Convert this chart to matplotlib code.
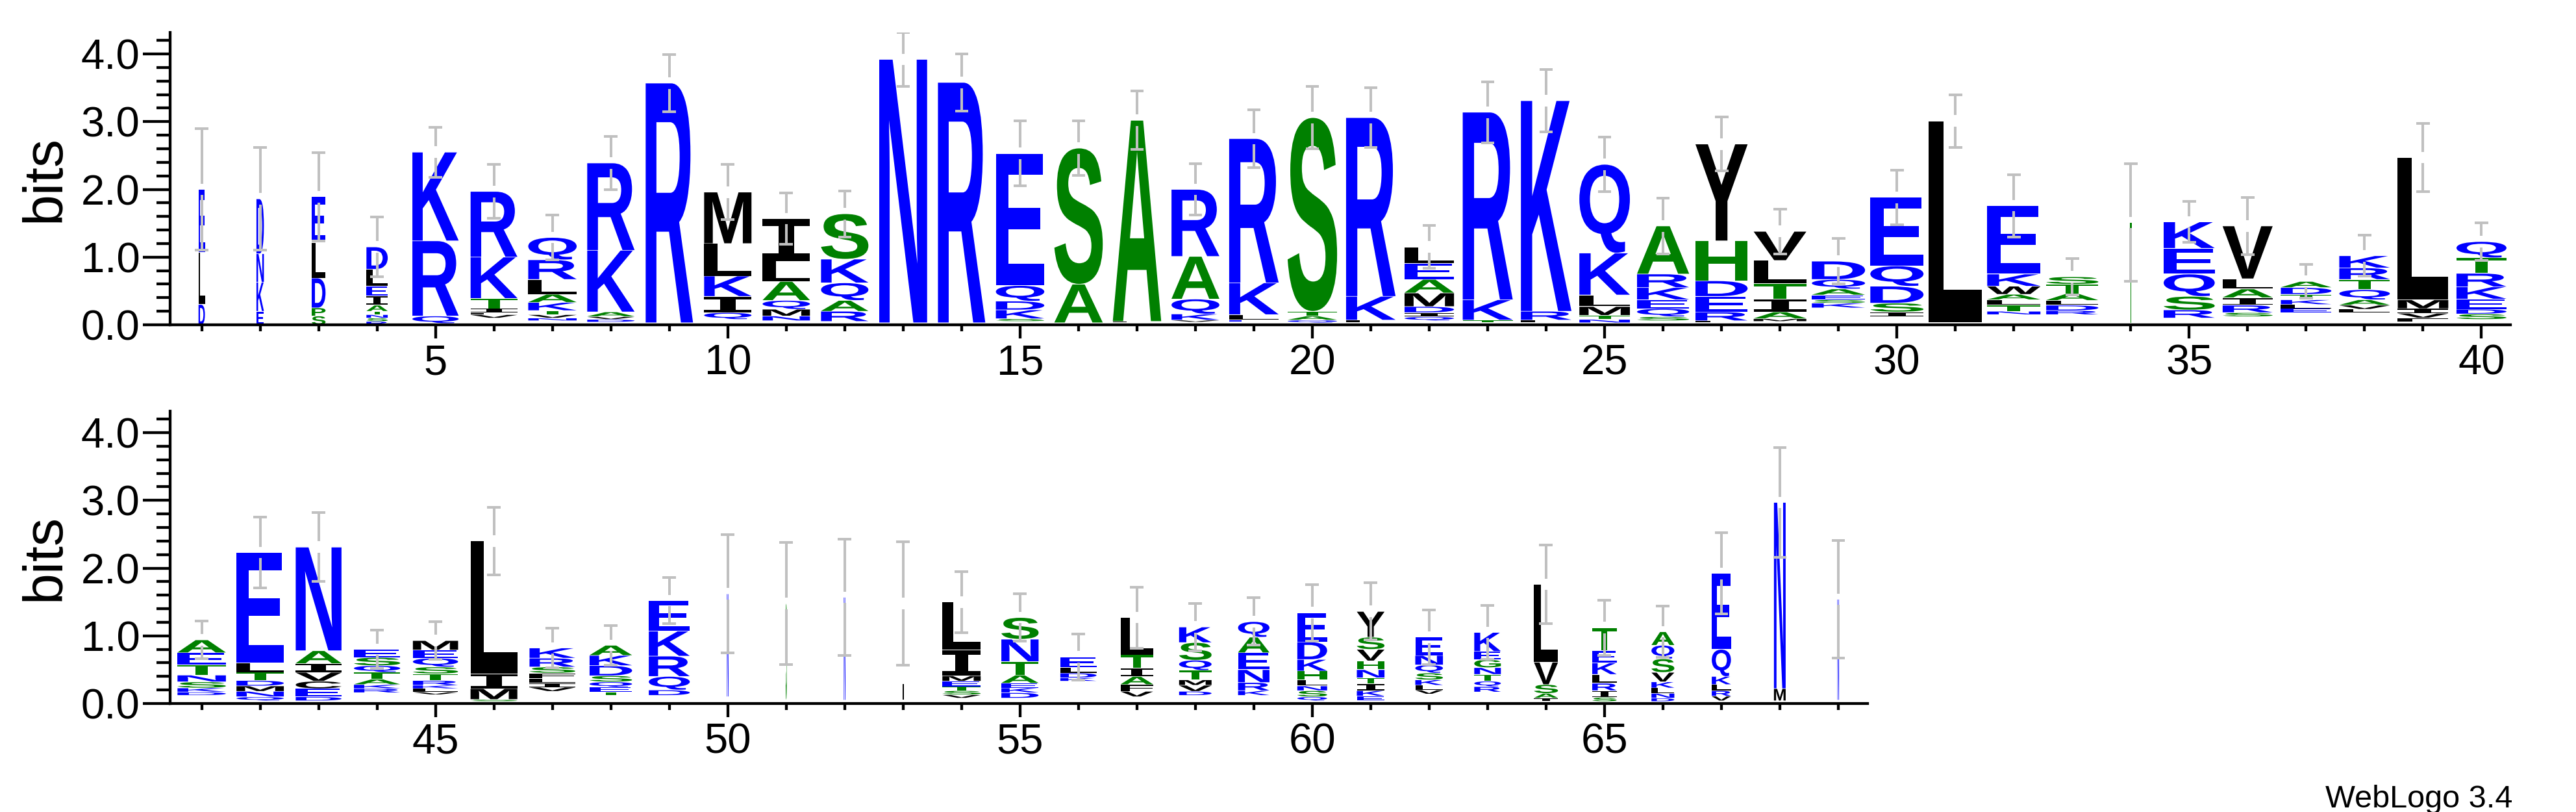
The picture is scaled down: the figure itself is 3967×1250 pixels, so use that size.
import matplotlib
matplotlib.use('Agg')
import matplotlib.pyplot as plt
from matplotlib.textpath import TextPath
from matplotlib.patches import PathPatch
from matplotlib.font_manager import FontProperties
from matplotlib.transforms import Affine2D
from matplotlib.ticker import MultipleLocator, FormatStrFormatter

# ---- data read off the logo (bits) ----
# fraction of sequences present at each column (stack width)
occupancy = [
    0.12, 0.14, 0.26, 0.40, 0.87, 0.88, 0.91, 0.89, 0.89, 0.89,
    0.89, 0.89, 0.90, 0.89, 0.91, 0.91, 0.91, 0.90, 0.93, 0.93,
    0.93, 0.93, 0.94, 0.95, 0.95, 0.98, 0.98, 0.99, 1.00, 1.00,
    1.00, 1.00, 0.98, 0.03, 0.96, 0.94, 0.95, 0.95, 0.95, 0.94,
    0.91, 0.89, 0.86, 0.87, 0.85, 0.88, 0.86, 0.80, 0.77, 0.03,
    0.02, 0.03, 0.02, 0.72, 0.70, 0.68, 0.61, 0.61, 0.59, 0.56,
    0.52, 0.52, 0.50, 0.45, 0.46, 0.43, 0.36, 0.22, 0.03,
]
# bits taken by residues too small to show
floor_bits = [
    0.00, 0.00, 0.00, 0.00, 0.02, 0.10, 0.06, 0.04, 0.03, 0.08,
    0.06, 0.05, 0.03, 0.03, 0.05, 0.03, 0.03, 0.04, 0.04, 0.03,
    0.03, 0.06, 0.03, 0.03, 0.03, 0.06, 0.03, 0.05, 0.25, 0.12,
    0.03, 0.15, 0.15, 0.02, 0.10, 0.12, 0.18, 0.18, 0.04, 0.08,
    0.12, 0.04, 0.04, 0.16, 0.13, 0.03, 0.18, 0.12, 0.12, 0.10,
    0.05, 0.05, 0.05, 0.08, 0.08, 0.33, 0.10, 0.12, 0.12, 0.04,
    0.04, 0.14, 0.17, 0.03, 0.03, 0.03, 0.04, 0.04, 0.05,
]
# letters bottom -> top
stack_letters = [
    'DLE', 'EKND', 'SPDLE', 'RSNTAIELD', 'QRK', 'VLITKR', 'NVTKALRQ', 'DVAKR', 'R', 'QIKLM',
    'NMQALI', 'RAQKS', 'N', 'R', 'SKDQE', 'AS', 'LA', 'VKQAR', 'ELKR', 'QATS',
    'LKR', 'QIDMAEL', 'TKR', 'LRK', 'NTMLKQ', 'SQEKRA', 'LREDHY', 'MAITLV', 'KSEAQD', 'ISDQE',
    'L', 'NTLAWKE', 'RDLATS', 'T', 'RSQEK', 'SRIALV', 'ELKTDA', 'LVAQTRK', 'FVIML', 'SDEKRTQ',
    'DKSNTEA', 'QNMDTLE', 'DECVIAN', 'RKATQSE', 'VLKRTSQEM', 'SMIL', 'VILFSRK', 'TEQSDKA', 'DQRKE', 'N',
    'S', 'N', 'L', 'VSTEMIL', 'DKEATNS', 'KDLE', 'VFAITL', 'DVMTQSK', 'KRNEAQ', 'QSNLHKDE',
    'EKITNHVSY', 'VLKSQNE', 'RQTNGEK', 'IASVL', 'SIRLKET', 'DNLKVSQA', 'VRLKQE', 'MN', 'N',
]
stack_heights = [
    [0.30, 0.77, 0.93], [0.20, 0.43, 0.42, 0.81], [0.13, 0.12, 0.44, 0.52, 0.68],
    [0.05, 0.05, 0.05, 0.05, 0.09, 0.14, 0.14, 0.25, 0.33], [0.11, 1.11, 1.31],
    [0.05, 0.03, 0.06, 0.15, 0.61, 0.97], [0.04, 0.05, 0.06, 0.12, 0.12, 0.22, 0.29, 0.33],
    [0.04, 0.04, 0.07, 0.91, 1.29], [3.54], [0.10, 0.24, 0.30, 0.48, 0.76],
    [0.07, 0.10, 0.13, 0.28, 0.30, 0.63], [0.15, 0.16, 0.26, 0.35, 0.67], [3.89], [3.55],
    [0.04, 0.13, 0.13, 0.23, 1.95], [0.57, 2.01], [0.02, 2.97], [0.03, 0.09, 0.22, 0.63, 0.99],
    [0.03, 0.08, 0.47, 2.13], [0.04, 0.06, 0.07, 2.86],
    [0.04, 0.35, 2.64], [0.06, 0.06, 0.09, 0.20, 0.20, 0.24, 0.24], [0.04, 0.30, 2.77],
    [0.04, 0.13, 3.11], [0.05, 0.06, 0.13, 0.17, 0.62, 1.31], [0.06, 0.12, 0.13, 0.18, 0.20, 0.71],
    [0.03, 0.13, 0.23, 0.23, 0.59, 1.43], [0.04, 0.10, 0.19, 0.23, 0.34, 0.43],
    [0.07, 0.05, 0.07, 0.09, 0.14, 0.27], [0.07, 0.13, 0.25, 0.30, 1.01],
    [2.98], [0.05, 0.09, 0.08, 0.08, 0.12, 0.18, 1.01], [0.06, 0.08, 0.07, 0.10, 0.14, 0.11],
    [1.49], [0.12, 0.20, 0.33, 0.38, 0.39], [0.06, 0.11, 0.11, 0.13, 0.15, 0.78],
    [0.06, 0.06, 0.07, 0.08, 0.10, 0.09], [0.05, 0.06, 0.08, 0.15, 0.15, 0.17, 0.18],
    [0.06, 0.07, 0.07, 0.13, 2.10], [0.08, 0.07, 0.15, 0.18, 0.20, 0.23, 0.24],
    [0.05, 0.06, 0.09, 0.10, 0.15, 0.18, 0.19], [0.06, 0.08, 0.08, 0.08, 0.12, 0.14, 1.63],
    [0.06, 0.12, 0.11, 0.13, 0.13, 0.19, 1.53], [0.06, 0.06, 0.08, 0.10, 0.10, 0.12, 0.12],
    [0.04, 0.05, 0.05, 0.07, 0.10, 0.10, 0.13, 0.12, 0.14], [0.03, 0.16, 0.22, 1.96],
    [0.06, 0.06, 0.07, 0.08, 0.09, 0.13, 0.15], [0.05, 0.07, 0.08, 0.09, 0.15, 0.15, 0.15],
    [0.08, 0.20, 0.30, 0.37, 0.45], [1.52],
    [1.43], [1.52], [1.43], [0.05, 0.06, 0.06, 0.08, 0.08, 0.38, 0.71],
    [0.08, 0.07, 0.07, 0.12, 0.20, 0.33, 0.32], [0.05, 0.07, 0.08, 0.16],
    [0.08, 0.10, 0.12, 0.12, 0.20, 0.55], [0.06, 0.09, 0.08, 0.14, 0.15, 0.26, 0.23],
    [0.07, 0.12, 0.19, 0.25, 0.23, 0.23], [0.06, 0.09, 0.07, 0.09, 0.13, 0.17, 0.26, 0.43],
    [0.07, 0.08, 0.10, 0.09, 0.12, 0.13, 0.17, 0.18, 0.38], [0.06, 0.07, 0.08, 0.10, 0.12, 0.14, 0.27],
    [0.08, 0.08, 0.10, 0.10, 0.12, 0.12, 0.28], [0.05, 0.07, 0.13, 0.33, 1.15],
    [0.06, 0.10, 0.11, 0.13, 0.17, 0.18, 0.34], [0.05, 0.07, 0.08, 0.09, 0.14, 0.20, 0.20, 0.20],
    [0.07, 0.08, 0.09, 0.12, 0.40, 1.12], [0.18, 2.75], [1.49],
]
error_bits = [
    0.90, 0.76, 0.65, 0.44, 0.37, 0.40, 0.33, 0.39, 0.42, 0.41,
    0.38, 0.34, 0.40, 0.42, 0.48, 0.40, 0.43, 0.38, 0.43, 0.46,
    0.44, 0.32, 0.45, 0.46, 0.40, 0.41, 0.40, 0.33, 0.34, 0.40,
    0.39, 0.46, 0.27, 0.87, 0.30, 0.42, 0.25, 0.30, 0.50, 0.28,
    0.28, 0.52, 0.51, 0.28, 0.28, 0.50, 0.29, 0.29, 0.34, 0.87,
    0.90, 0.86, 0.91, 0.45, 0.35, 0.34, 0.45, 0.35, 0.35, 0.42,
    0.42, 0.40, 0.40, 0.58, 0.41, 0.38, 0.60, 0.81, 0.87,
]

blue, green, black = '#0000ff', '#008000', '#000000'
colors = {}
for c in 'NRKEQD':
    colors[c] = blue
for c in 'SATHGP':
    colors[c] = green
for c in 'LMYVIWFC':
    colors[c] = black

plt.rcParams['font.family'] = ['Liberation Sans', 'DejaVu Sans']

bold = FontProperties(family='Liberation Sans', weight='bold')
serif_i = FontProperties(family='DejaVu Sans Mono', weight='bold')
glyphs = {}


def letter(ax, ch, x, y0, h, w):
    if ch not in glyphs:
        p = TextPath((0, 0), ch, size=1, prop=serif_i if ch == 'I' else bold)
        glyphs[ch] = (p, p.get_extents())
    p, e = glyphs[ch]
    t = (Affine2D().translate(-e.x0, -e.y0)
         .scale(w / e.width, h / e.height)
         .translate(x - w / 2, y0))
    ax.add_patch(PathPatch(t.transform_path(p), fc=colors[ch], ec='none', lw=0))


def draw_row(ax, first, last):
    for pos in range(first, last + 1):
        i = pos - 1
        w = 0.91 * occupancy[i]
        y = floor_bits[i]
        for ch, h in zip(stack_letters[i], stack_heights[i]):
            letter(ax, ch, pos, y + 0.004, h - 0.008, w)
            y += h
        # error bar, broken where it meets the top of the stack
        e = error_bits[i]
        gap = 0.085
        kw = dict(color='#c0c0c0', lw=2.9, solid_capstyle='butt', zorder=5)
        ax.plot([pos, pos], [y + gap, y + e], **kw)
        ax.plot([pos, pos], [y - e, y - gap], **kw)
        ax.plot([pos - 0.115, pos + 0.115], [y + e, y + e], **kw)
        ax.plot([pos - 0.115, pos + 0.115], [y - e, y - e], **kw)

    ax.set_xlim(first - 0.54, last + 0.5)
    ax.set_ylim(0, 4.32)
    for s in ('top', 'right'):
        ax.spines[s].set_visible(False)
    for s in ('left', 'bottom'):
        ax.spines[s].set_linewidth(3.1)
    ax.xaxis.set_major_locator(MultipleLocator(5))
    ax.xaxis.set_minor_locator(MultipleLocator(1))
    ax.yaxis.set_major_locator(MultipleLocator(1))
    ax.yaxis.set_minor_locator(MultipleLocator(0.2))
    ax.yaxis.set_major_formatter(FormatStrFormatter('%.1f'))
    ax.tick_params(axis='y', which='major', length=30, width=3.1, labelsize=47, pad=3.5)
    ax.tick_params(axis='y', which='minor', length=15, width=3.1)
    ax.tick_params(axis='x', which='major', length=15, width=3.1, labelsize=47, pad=6.5)
    ax.tick_params(axis='x', which='minor', length=7, width=3.1)


fig = plt.figure(figsize=(39.67, 12.5), dpi=100)
ax1 = fig.add_axes([0.06605, 0.6, 0.9086, 0.3602])
ax2 = fig.add_axes([0.06605, 0.1336, 0.6589, 0.3602])
draw_row(ax1, 1, 40)
draw_row(ax2, 41, 69)

fig.text(0.0176, 0.78, 'bits', rotation=90, fontsize=62, ha='center', va='center')
fig.text(0.0176, 0.3136, 'bits', rotation=90, fontsize=62, ha='center', va='center')
fig.text(0.9755, 0.0056, 'WebLogo 3.4', fontsize=35, ha='right', va='baseline')

fig.savefig('out.png', dpi=100)
